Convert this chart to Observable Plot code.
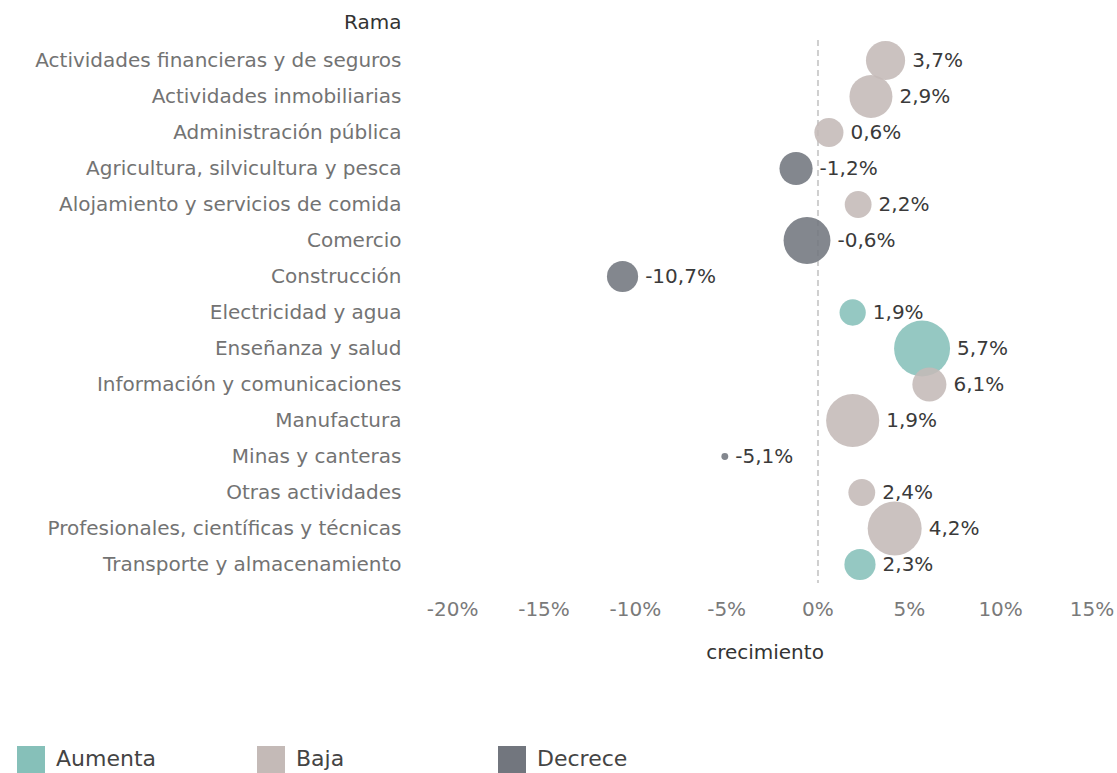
<!DOCTYPE html>
<html>
<head>
<meta charset="utf-8">
<script src="https://cdn.jsdelivr.net/npm/d3@7"></script>
<script src="https://cdn.jsdelivr.net/npm/@observablehq/plot@0.6"></script>
<style>
  html, body { margin: 0; background: #fff; font-family: "DejaVu Sans", sans-serif; overflow: hidden; }
  #chart { position: absolute; left: 0; top: 0; }
  #legend { position: absolute; left: 0; top: 746px; width: 1117px; height: 27px;
    font-family: "DejaVu Sans", sans-serif; font-size: 22px; color: #444; }
  .item { position: absolute; top: 0; display: flex; align-items: flex-start; }
  .sw { width: 28px; height: 27px; margin-right: 11px; }
  .lbl { line-height: 22px; margin-top: 2px; }
</style>
</head>
<body>
<div id="chart"></div>
<div id="legend"></div>
<script>
const ramas = [
  "Actividades financieras y de seguros",
  "Actividades inmobiliarias",
  "Administración pública",
  "Agricultura, silvicultura y pesca",
  "Alojamiento y servicios de comida",
  "Comercio",
  "Construcción",
  "Electricidad y agua",
  "Enseñanza y salud",
  "Información y comunicaciones",
  "Manufactura",
  "Minas y canteras",
  "Otras actividades",
  "Profesionales, científicas y técnicas",
  "Transporte y almacenamiento"
];
const crecimiento = [3.7, 2.9, 0.6, -1.2, 2.2, -0.6, -10.7, 1.9, 5.7, 6.1, 1.9, -5.1, 2.4, 4.2, 2.3];
const peso = [4.9, 5.9, 2.7, 3.5, 2.3, 7.0, 3.1, 2.2, 10.0, 3.7, 9.0, 0.15, 2.3, 9.3, 3.1];
const tipo = ["Baja", "Baja", "Baja", "Decrece", "Baja", "Decrece", "Decrece", "Aumenta", "Aumenta", "Baja", "Baja", "Decrece", "Baja", "Baja", "Aumenta"];
const tipos = ["Aumenta", "Baja", "Decrece"];
const colores = ["#86c0b9", "#c4bab7", "#72767e"];
const xTicks = [-20, -15, -10, -5, 0, 5, 10, 15];

const width = 1117, height = 680, marginLeft = 412, marginRight = 0, marginTop = 40, marginBottom = 97;
const xDomain = [-22.2, 16.4];
const rMax = 28, pesoMax = 10;
const rScale = d3.scaleSqrt().domain([0, pesoMax]).range([0, rMax]);
const pxPerUnit = (width - marginLeft - marginRight) / (xDomain[1] - xDomain[0]);

const drawOrder = {Baja: 0, Decrece: 1, Aumenta: 2};
const data = ramas.map((rama, i) => ({
  rama, valor: crecimiento[i], peso: peso[i], tipo: tipo[i],
  etiqueta: (crecimiento[i] < 0 ? "-" : "") + Math.abs(crecimiento[i]).toFixed(1).replace(".", ",") + "%",
  xEtiqueta: crecimiento[i] + (rScale(peso[i]) + 7) / pxPerUnit
})).sort((a, b) => drawOrder[a.tipo] - drawOrder[b.tipo]);

const chart = Plot.plot({
  width, height, marginLeft, marginRight, marginTop, marginBottom,
  style: { fontFamily: "DejaVu Sans, sans-serif", background: "#fff" },
  x: { domain: xDomain },
  y: { type: "point", domain: ramas, padding: 0, range: [58, 565], insetTop: 0, insetBottom: 0 },
  r: { type: "sqrt", domain: [0, pesoMax], range: [0, rMax] },
  color: { domain: tipos, range: colores },
  marks: [
    Plot.ruleX([0], { stroke: "#cfcfcf", strokeWidth: 2, strokeDasharray: "6,4" }),
    Plot.axisY({ tickSize: 0, tickPadding: 11, fontSize: 20, fill: "#737373", label: null }),
    Plot.text(["Rama"], { frameAnchor: "top-left", dx: -11, dy: -18, textAnchor: "end", lineAnchor: "middle", fontSize: 20, fill: "#333" }),
    Plot.axisX({ ticks: xTicks, tickFormat: d => (d < 0 ? "-" : "") + Math.abs(d) + "%", tickSize: 0, tickPadding: 18, fontSize: 20,
      fill: "#7a7a7a", label: "crecimiento", labelAnchor: "center", labelArrow: "none", labelOffset: 75 }),
    Plot.dot(data, { x: "valor", y: "rama", r: "peso", fill: "tipo", fillOpacity: 0.88 }),
    Plot.text(data, { x: "xEtiqueta", y: "rama", text: "etiqueta", textAnchor: "start", fontSize: 20, fill: "#3a3a3a" })
  ]
});
document.getElementById("chart").appendChild(chart);

// axis label styling
d3.select(chart).selectAll("[aria-label='x-axis label'] text")
  .attr("fill", "#333").style("font-size", "20px");

const legend = document.getElementById("legend");
const legendX = [17, 257, 498];
tipos.forEach((t, i) => {
  const it = document.createElement("div");
  it.className = "item";
  it.style.left = legendX[i] + "px";
  it.innerHTML = `<div class="sw" style="background:${colores[i]}"></div><span class="lbl">${t}</span>`;
  legend.appendChild(it);
});
</script>
</body>
</html>
